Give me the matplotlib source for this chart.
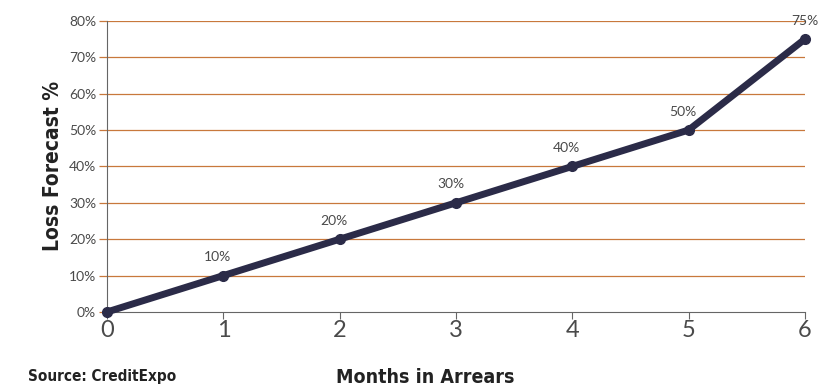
import matplotlib
matplotlib.use("Agg")
import matplotlib.pyplot as plt

months = [0, 1, 2, 3, 4, 5, 6]
loss_pct = [0, 10, 20, 30, 40, 50, 75]
y_ticks = [0, 10, 20, 30, 40, 50, 60, 70, 80]

line_color = "#2b2b48"
grid_color = "#c8783c"
text_gray = "#4a4a4a"
bold_font = dict(family="DejaVu Sans", fontstretch="condensed", fontweight="bold",
                 color="#222222")

fig = plt.figure(figsize=(8.18, 3.87), dpi=100)
ax = fig.add_axes([0.131, 0.194, 0.853, 0.752])

for v in y_ticks[1:]:
    ax.axhline(v, color=grid_color, lw=0.9, zorder=1)

ax.plot(months, loss_pct, color=line_color, lw=5, marker="o", ms=7,
        solid_capstyle="round", zorder=3, clip_on=False)

for m, v in zip(months[1:], loss_pct[1:]):
    dx = 0 if m == months[-1] else -4
    ax.annotate(f"{v}%", (m, v), xytext=(dx, 9), textcoords="offset points",
                ha="center", va="bottom", fontsize=10, color=text_gray,
                family="Lato")

ax.set_xlim(0, 6)
ax.set_ylim(0, 80)
ax.set_yticks(y_ticks)
ax.set_yticklabels([f"{v}%" for v in y_ticks], family="Lato", fontsize=10,
                   color=text_gray)
ax.set_xticks(months)
ax.set_xticklabels([str(m) for m in months], family="Lato", fontsize=17,
                   color=text_gray)
ax.tick_params(axis="y", length=6, color=grid_color, width=0.9, pad=2)
ax.tick_params(axis="x", length=5, color="#666666", width=0.8, pad=1)

for side in ["top", "right"]:
    ax.spines[side].set_visible(False)
ax.spines["left"].set_color("#666666")
ax.spines["left"].set_linewidth(0.8)
ax.spines["bottom"].set_color("#666666")
ax.spines["bottom"].set_linewidth(0.8)

ax.set_ylabel("Loss Forecast %", fontsize=15, labelpad=4, **bold_font)
fig.text(0.52, 0.01, "Months in Arrears", fontsize=14, ha="center", **bold_font)
fig.text(0.034, 0.015, "Source: CreditExpo", fontsize=11, ha="left", **bold_font)

fig.savefig("out.png", dpi=100, facecolor="white")
